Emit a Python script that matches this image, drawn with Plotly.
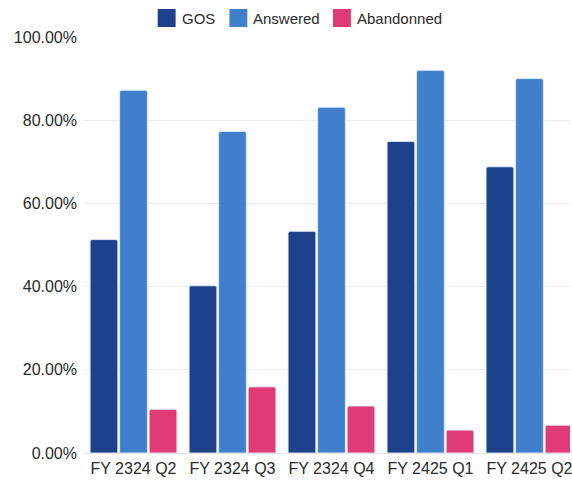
import plotly.graph_objects as go

# Quarterly call-handling rates (%)
quarters = ["FY 2324 Q2", "FY 2324 Q3", "FY 2324 Q4", "FY 2425 Q1", "FY 2425 Q2"]
gos = [51.3, 40.2, 53.3, 74.9, 68.8]
answered = [87.2, 77.3, 83.1, 92.0, 90.0]
abandonned = [10.5, 15.9, 11.3, 5.5, 6.7]

series_names = ["GOS", "Answered", "Abandonned"]
series_colors = ["#1e418b", "#3f7fcb", "#e03b74"]
y_ticks = [0, 20, 40, 60, 80, 100]
y_tick_labels = [f"{v:.2f}%" for v in y_ticks]

W, H = 572, 481
M_L, M_R, M_T, M_B = 84, 0, 37, 28
PW, PH = W - M_L - M_R, H - M_T - M_B

fig = go.Figure()
for name, vals, col in zip(series_names, [gos, answered, abandonned], series_colors):
    fig.add_trace(go.Bar(
        x=quarters, y=vals, name=name,
        marker=dict(color=col, line=dict(color="rgba(225,235,250,0.9)", width=1), cornerradius=2),
        showlegend=False,
    ))

# Legend drawn as swatches + labels above the plot
def px_x(p):
    return (p - M_L) / PW

def px_y(p):
    return (H - M_B - p) / PH

swatch_x = [158, 230, 334]
for name, col, sx in zip(series_names, series_colors, swatch_x):
    fig.add_shape(type="rect", xref="paper", yref="paper",
                  x0=px_x(sx), x1=px_x(sx + 18), y0=px_y(27), y1=px_y(9),
                  fillcolor=col, line=dict(width=0))
    fig.add_annotation(text=name, xref="paper", yref="paper",
                       x=px_x(sx + 22), y=px_y(18), xanchor="left", yanchor="middle",
                       showarrow=False, font=dict(size=15, color="#2a2a2a"))

fig.update_layout(
    width=W, height=H,
    margin=dict(l=M_L, r=M_R, t=M_T, b=M_B),
    paper_bgcolor="white", plot_bgcolor="white",
    barmode="group", bargap=0.105, bargroupgap=0.06,
    font=dict(family="Liberation Sans, Arial, sans-serif", size=16, color="#2a2a2a"),
)
fig.update_xaxes(type="category", range=[-0.5, -0.5 + PW / 99.4],
                 showgrid=False, showline=False, ticks="", tickfont=dict(size=16),
                 ticklabelstandoff=4)
fig.update_yaxes(range=[0, 100], tickmode="array", tickvals=y_ticks, ticktext=y_tick_labels,
                 showgrid=True, gridcolor="#ebebeb", gridwidth=1, zeroline=True,
                 zerolinecolor="#e3e3e3", zerolinewidth=1, showline=False,
                 ticklabelstandoff=6, tickfont=dict(size=16))

fig.write_html("out.html")
